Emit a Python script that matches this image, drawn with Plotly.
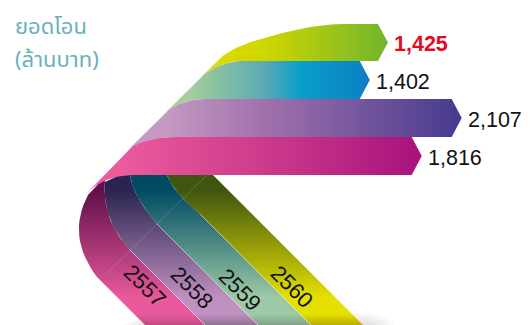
import math
import plotly.graph_objects as go

# Yearly transfer totals, million baht, top ribbon first
years = ["2560", "2559", "2558", "2557"]
sales = [1425, 1402, 2107, 1816]
label_colors = ["#e30b20", "#111111", "#111111", "#111111"]

W, H = 530, 325
PX_PER_UNIT = 0.1375            # horizontal pixels per million baht
ribbon_base = [192, 177, 172, 172]
ribbon_top = [24, 61, 99, 137]
ribbon_bottom = [61, 99, 137, 175]
TIP = 10

# Gradient stops as (position, colour)
front_stops = [
    [(0, "#e0dd00"), (0.35, "#cfd600"), (1, "#72b52c")],
    [(0, "#a3cf9a"), (0.42, "#5aa9b4"), (0.61, "#0a9fc8"), (1, "#0b7fc4")],
    [(0, "#c59ac2"), (0.34, "#a070ac"), (1, "#463a8e")],
    [(0, "#ec5b9c"), (0.48, "#cc3a8b"), (1, "#a8127c")],
]
front_span = [(200, 387), (190, 370), (165, 462), (120, 422)]

# Rear faces: dark by the fold, pale lower down, shaded again at the floor
back_stops = [
    ["#3f5510", "#e5e000", "#b8a800"],
    ["#004a62", "#9ccaa6", "#7f9f85"],
    ["#2a2550", "#bf90c0", "#8f6f90"],
    ["#5f0f4a", "#e85a9b", "#c04a80"],
]
BACK_TOP, BACK_LIGHT, BACK_HOLD, BACK_END = 190, 298, 314, 326


def bez(p0, p1, p2, n=16):
    """Sample a quadratic Bezier, start point excluded."""
    out = []
    for i in range(1, n + 1):
        t = i / n
        out.append(((1 - t) ** 2 * p0[0] + 2 * t * (1 - t) * p1[0] + t * t * p2[0],
                    (1 - t) ** 2 * p0[1] + 2 * t * (1 - t) * p1[1] + t * t * p2[1]))
    return out


def head(i):
    """Arrow end of ribbon i; its length comes from the sales figure."""
    tip = ribbon_base[i] + sales[i] * PX_PER_UNIT
    top, bottom = ribbon_top[i], ribbon_bottom[i]
    return [(tip - TIP, top), (tip, (top + bottom) / 2), (tip - TIP, bottom)], tip


def grad(kind, stops, start, stop):
    return dict(type=kind, start=start, stop=stop,
                colorscale=[[p, c] for p, c in stops])


fig = go.Figure()


def add_shape(pts, fillgradient):
    xs = [p[0] for p in pts] + [pts[0][0]]
    ys = [p[1] for p in pts] + [pts[0][1]]
    fig.add_trace(go.Scatter(x=xs, y=ys, mode="lines", fill="toself",
                             line=dict(width=0, color="rgba(0,0,0,0)"),
                             fillgradient=fillgradient,
                             hoverinfo="skip", showlegend=False))


def add_soft_shadow(cx, cy, rx, ry, layers=7, alpha=0.025):
    """Nested translucent ellipses give a blurred floor shadow."""
    for k in range(1, layers + 1):
        f = k / layers
        xs = [cx + rx * f * math.cos(a / 24 * 2 * math.pi) for a in range(25)]
        ys = [cy + ry * f * math.sin(a / 24 * 2 * math.pi) for a in range(25)]
        fig.add_trace(go.Scatter(x=xs, y=ys, mode="lines", fill="toself",
                                 line=dict(width=0, color="rgba(0,0,0,0)"),
                                 fillcolor=f"rgba(0,0,0,{alpha})",
                                 hoverinfo="skip", showlegend=False))


# Soft floor shadows under the ribbon ends
add_soft_shadow(152, 329, 30, 11)
add_soft_shadow(362, 330, 34, 17)

# Rear faces running down to the right, one band per year
edges = [
    [(167, 175), (173, 192), (200, 214), (339, 353)],   # inner edge of 2560
    [(130, 175), (133, 196), (157, 224), (286, 353)],   # inner edge of 2559
    [(105, 182), (102, 220), (130, 250), (233, 353)],   # inner edge of 2558
    [(88, 195), (66, 236), (97, 277), (173, 353)],      # outer edge of 2557
]
back_outer = [(213, 175), (391, 353)]
back_cap = [(213, 170), (167, 170), (130, 170), (105, 177)]


def edge_path(e):
    return [e[0]] + bez(e[0], e[1], e[2]) + [e[3]]


band_outer = [
    back_outer,
    edge_path(edges[0]),
    edge_path(edges[1]),
    edge_path(edges[2]),
]
band_inner = [edge_path(edges[i]) for i in range(4)]

span = BACK_END - BACK_TOP
for i in [3, 2, 1, 0]:
    pts = band_inner[i] + list(reversed(band_outer[i])) + [back_cap[i]]
    add_shape(pts, grad("vertical",
                        [(0, back_stops[i][0]),
                         ((BACK_LIGHT - BACK_TOP) / span, back_stops[i][1]),
                         ((BACK_HOLD - BACK_TOP) / span, back_stops[i][1]),
                         (1, back_stops[i][2])],
                        BACK_TOP, BACK_END))

# Faint fold lines: across the bands and along their seams
seam_style = dict(color="rgba(255,255,255,0.4)", width=1)
fig.add_trace(go.Scatter(x=[207, 105], y=[175, 275], mode="lines",
                         line=dict(color="rgba(255,255,255,0.16)", width=1),
                         hoverinfo="skip", showlegend=False))
for e in edges[:3]:
    fig.add_trace(go.Scatter(x=[e[2][0], e[3][0]], y=[e[2][1], e[3][1]], mode="lines",
                             line=seam_style, hoverinfo="skip", showlegend=False))

# Front faces, painted top ribbon first so each lower one laps the curve above
left_parts = [
    [(200, 78), (217, 61)] + bez((217, 61), (232, 46), (265, 38)) + bez((265, 38), (310, 24), (345, 24)),
    [(163, 115), (200, 78)] + bez((200, 78), (218, 61), (245, 61)),
    [(130, 148), (163, 115)] + bez((163, 115), (178, 99), (210, 99)),
    [(88, 192), (130, 148)] + bez((130, 148), (146, 137), (178, 137)),
]
under_start = [(245, 61), (210, 99), (178, 137), (131, 175)]
under_parts = [
    bez((245, 61), (218, 61), (200, 78)),
    bez((210, 99), (178, 99), (163, 115)),
    bez((178, 137), (146, 137), (130, 148)),
    bez((131, 175), (105, 176), (88, 192)),
]

for i in range(4):
    end, _ = head(i)
    pts = left_parts[i] + end + [under_start[i]] + under_parts[i]
    add_shape(pts, grad("horizontal", front_stops[i], *front_span[i]))

# Value labels beside each arrow tip
for i in range(4):
    _, tip = head(i)
    mid = (ribbon_top[i] + ribbon_bottom[i]) / 2
    text = f"{sales[i]:,}"
    fig.add_annotation(x=tip + 4, y=mid + 1.5, text=f"<b>{text}</b>" if i == 0 else text,
                       showarrow=False, xanchor="left", yanchor="middle",
                       font=dict(family="Liberation Sans", size=21.5, color=label_colors[i]))

# Year captions set along the rear bands
year_pos = [(292, 286), (240, 289), (192, 287), (145, 285)]
for y_label, (px, py) in zip(years, year_pos):
    fig.add_annotation(x=px, y=py, text=y_label, showarrow=False, textangle=45,
                       font=dict(family="Liberation Sans", size=22, color="#111111"))

# Heading
fig.add_annotation(x=13, y=27, text="ยอดโอน", showarrow=False, xanchor="left",
                   font=dict(family="Noto Sans Thai, Noto Sans, DejaVu Sans",
                             size=22, color="#6bb0bc"))
fig.add_annotation(x=13, y=60, text="(ล้านบาท)", showarrow=False, xanchor="left",
                   font=dict(family="Noto Sans Thai, Noto Sans, DejaVu Sans",
                             size=22, color="#6bb0bc"))

fig.update_layout(
    width=W, height=H, margin=dict(l=0, r=0, t=0, b=0),
    paper_bgcolor="white", plot_bgcolor="white", showlegend=False,
    xaxis=dict(range=[0, W], visible=False, fixedrange=True),
    yaxis=dict(range=[H, 0], visible=False, fixedrange=True),
)
fig.write_html("out.html", config=dict(displayModeBar=False))
